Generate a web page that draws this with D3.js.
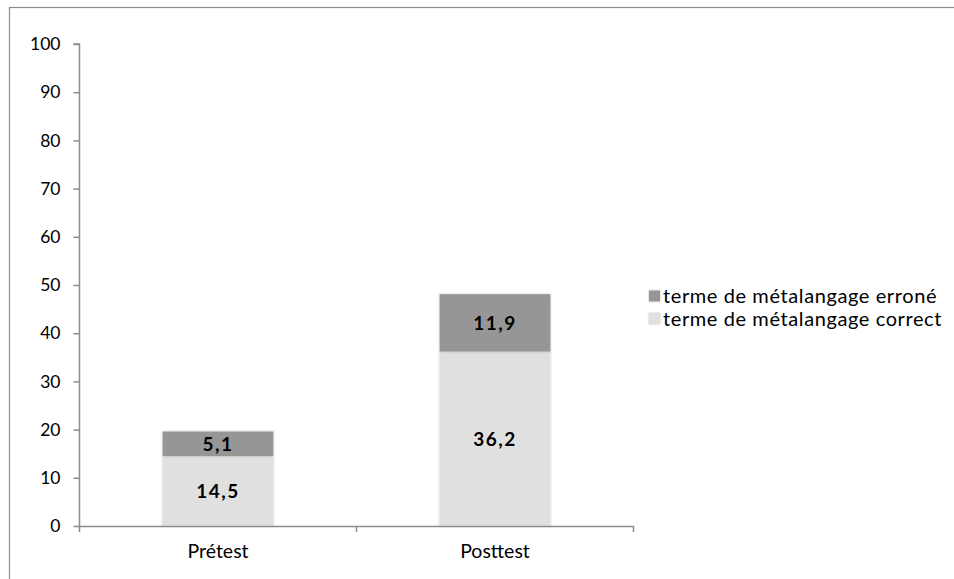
<!DOCTYPE html>
<html>
<head>
<meta charset="utf-8">
<script src="https://cdn.jsdelivr.net/npm/d3@7"></script>
<style>
  body { margin: 0; background: #fff; }
  text { font-family: Lato, "Open Sans", sans-serif; fill: #000; }
</style>
</head>
<body>
<svg id="chart" width="954" height="579"></svg>
<script>
'use strict'

// data
var categories = ['Prétest', 'Posttest']
var correct = [14.5, 36.2]
var erroneous = [5.1, 11.9]
var seriesNames = ['terme de métalangage erroné', 'terme de métalangage correct']
var yTicks = [0, 10, 20, 30, 40, 50, 60, 70, 80, 90, 100]

var svg = d3.select('#chart')
var margin = { left: 79.5, right: 633.5, top: 44, bottom: 526 }

// outer frame, clipped at the window edge
svg.append('rect')
  .attr('x', 9.5).attr('y', 7.5)
  .attr('width', 1000).attr('height', 1000)
  .attr('fill', 'none')
  .attr('stroke', '#8c8c8c')
  .attr('stroke-width', 1.2)

var x = d3.scaleBand()
  .domain(categories)
  .range([margin.left, margin.right])
  .paddingInner(0.6)
  .paddingOuter(0.3)

var y = d3.scaleLinear()
  .domain([0, 100])
  .range([margin.bottom, margin.top])

var rows = categories.map((c, i) => ({ cat: c, correct: correct[i], erroneous: erroneous[i] }))
var stack = d3.stack().keys(['correct', 'erroneous'])(rows)
var color = { correct: '#e0e0e0', erroneous: '#969696' }

// soft shadow like the office chart
var defs = svg.append('defs')
var f = defs.append('filter').attr('id', 'sh').attr('x', '-10%').attr('y', '-10%').attr('width', '120%').attr('height', '120%')
f.append('feDropShadow').attr('dx', 0).attr('dy', 0).attr('stdDeviation', 1.2).attr('flood-color', '#000').attr('flood-opacity', 0.25)

var layers = svg.append('g')
  .selectAll('g')
  .data(stack)
  .enter().append('g')
  .attr('fill', (d) => color[d.key])

layers.selectAll('rect')
  .data((d) => d)
  .enter().append('rect')
  .attr('filter', 'url(#sh)')
  .attr('x', (d) => x(d.data.cat))
  .attr('width', x.bandwidth())
  .attr('y', (d) => y(d[1]))
  .attr('height', (d) => y(d[0]) - y(d[1]))

// value labels
layers.selectAll('text')
  .data((d) => d.map((v) => ({ v: v, key: d.key })))
  .enter().append('text')
  .attr('x', (d) => x(d.v.data.cat) + x.bandwidth() / 2)
  .attr('y', (d) => (y(d.v[0]) + y(d.v[1])) / 2)
  .attr('dy', '0.36em')
  .attr('text-anchor', 'middle')
  .style('font-weight', 'bold')
  .style('font-size', '19px')
  .style('letter-spacing', '1.5px')
  .text((d) => d3.format('.1f')(d.v.data[d.key]).replace('.', ','))

// axes
var yAxis = d3.axisLeft(y).tickValues(yTicks).tickSize(6).tickPadding(13)
var gy = svg.append('g')
  .attr('transform', 'translate(' + margin.left + ',0)')
  .call(yAxis)
gy.selectAll('text').style('font-size', '17.5px').style('font-family', 'Lato, sans-serif')

var gx = svg.append('g')
  .attr('transform', 'translate(0,' + margin.bottom + ')')
  .call(d3.axisBottom(x).tickSize(0).tickPadding(18))
gx.selectAll('text').style('font-size', '19.5px').style('font-family', 'Lato, sans-serif')

// category boundary ticks on x axis
var bounds = [margin.left].concat(categories.map((c) => x(c) + x.bandwidth() + x.step() * x.paddingInner() / 2))
bounds[bounds.length - 1] = margin.right
gx.selectAll('.bound')
  .data(bounds)
  .enter().append('line')
  .attr('class', 'bound')
  .attr('x1', (d) => d).attr('x2', (d) => d)
  .attr('y1', 0).attr('y2', 6)

svg.selectAll('.domain, .tick line, .bound')
  .attr('stroke', '#8c8c8c')
  .attr('stroke-width', 1.5)
gy.select('.domain').attr('d', 'M-6,' + margin.top + 'H0V' + margin.bottom)

// legend
var legend = svg.append('g')
  .selectAll('g')
  .data(seriesNames)
  .enter().append('g')
  .attr('transform', (d, i) => 'translate(649,' + (296 + i * 22.5) + ')')

legend.append('rect')
  .attr('x', 0).attr('y', -5.5)
  .attr('width', 11).attr('height', 11)
  .attr('fill', (d, i) => i === 0 ? color.erroneous : color.correct)
  .attr('filter', 'url(#sh)')

legend.append('text')
  .attr('x', 14)
  .attr('dy', '0.35em')
  .style('font-size', '20px')
  .style('letter-spacing', '0.6px')
  .text((d) => d)
</script>
</body>
</html>
